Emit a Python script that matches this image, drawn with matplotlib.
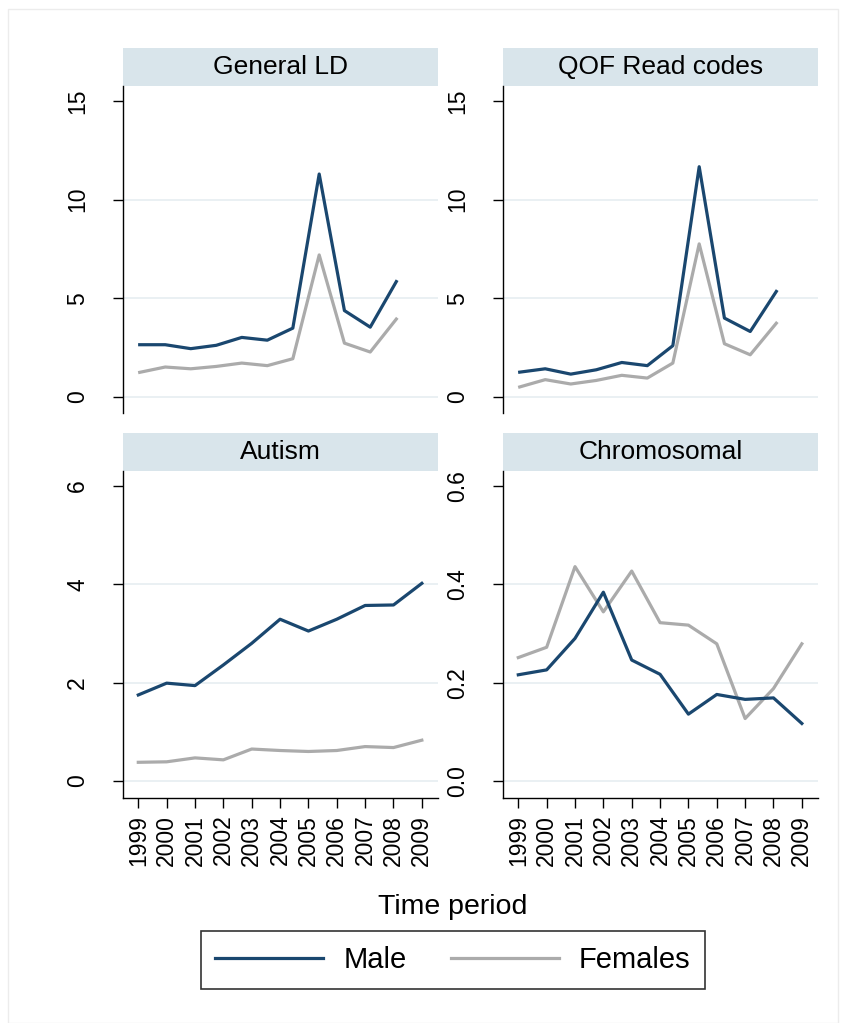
import matplotlib.pyplot as plt
from matplotlib.patches import Rectangle

plt.rcParams["font.family"] = ["Liberation Sans", "DejaVu Sans"]

# ---------------- DATA ----------------
years = [1999, 2000, 2001, 2002, 2003, 2004, 2005, 2006, 2007, 2008, 2009]
year_labels = [str(y) for y in years]

# top panels: the 11 points sit at non-integer spots on the shared time axis
top_x = [1999.05, 1999.95, 2000.85, 2001.75, 2002.65, 2003.55,
         2004.45, 2005.38, 2006.27, 2007.18, 2008.1]

general_male = [2.65, 2.65, 2.45, 2.62, 3.02, 2.88, 3.49, 11.3, 4.38, 3.54, 5.85]
general_female = [1.25, 1.52, 1.43, 1.55, 1.72, 1.59, 1.94, 7.2, 2.73, 2.28, 3.95]

qof_male = [1.26, 1.43, 1.16, 1.38, 1.75, 1.59, 2.6, 11.67, 4.0, 3.32, 5.35]
qof_female = [0.51, 0.88, 0.66, 0.84, 1.1, 0.96, 1.72, 7.76, 2.7, 2.14, 3.74]

autism_male = [1.75, 1.99, 1.94, 2.36, 2.8, 3.29, 3.05, 3.29, 3.57, 3.58, 4.02]
autism_female = [0.38, 0.39, 0.47, 0.43, 0.65, 0.62, 0.6, 0.62, 0.7, 0.68, 0.83]

chrom_male = [0.216, 0.226, 0.29, 0.384, 0.246, 0.217, 0.136, 0.176, 0.166, 0.169, 0.117]
chrom_female = [0.251, 0.272, 0.436, 0.344, 0.427, 0.322, 0.317, 0.279, 0.127, 0.188, 0.279]

top_ticks = [0, 5, 10, 15]
autism_ticks = [0, 2, 4, 6]
chrom_ticks = [0.0, 0.2, 0.4, 0.6]

MALE_COL = "#1a476f"
FEMALE_COL = "#ababab"
STRIP_COL = "#d9e5eb"
GRID_COL = "#e6eef1"

# ---------------- PLOT ----------------
W, H = 846, 1023
fig = plt.figure(figsize=(W / 100, H / 100), dpi=100)


def px_axes(x0, x1, y0, y1):
    # pixel box (top-left origin) -> figure axes
    return fig.add_axes([x0 / W, 1 - y1 / H, (x1 - x0) / W, (y1 - y0) / H])


panels = [
    ("General LD", top_x, general_male, general_female, top_ticks, None,
     (-0.81, 15.76), (122.7, 438, 86, 413), False),
    ("QOF Read codes", top_x, qof_male, qof_female, top_ticks, None,
     (-0.81, 15.76), (502.7, 818, 86, 413), False),
    ("Autism", years, autism_male, autism_female, autism_ticks, None,
     (-0.346, 6.305), (122.7, 438, 471, 798), True),
    ("Chromosomal", years, chrom_male, chrom_female, chrom_ticks,
     ["0.0", "0.2", "0.4", "0.6"],
     (-0.0346, 0.6305), (502.7, 818, 471, 798), True),
]

for title, xs, male, female, yticks, ylabels, ylim, box, show_x in panels:
    ax = px_axes(*box)
    for t in yticks[:-1]:
        ax.axhline(t, color=GRID_COL, lw=1.2, zorder=0)
    ax.plot(xs, male, color=MALE_COL, lw=2.3, zorder=3)
    ax.plot(xs, female, color=FEMALE_COL, lw=2.3, zorder=2)

    ax.set_xlim(1998.45, 2009.57)
    ax.set_ylim(*ylim)
    ax.set_yticks(yticks)
    if ylabels:
        ax.set_yticklabels(ylabels)
    ax.tick_params(axis="y", labelsize=16.5, length=7, width=1, pad=17,
                   labelrotation=90)
    for lab in ax.get_yticklabels():
        lab.set_va("center")

    ax.spines["top"].set_visible(False)
    ax.spines["right"].set_visible(False)
    ax.spines["left"].set_linewidth(1.0)
    if show_x:
        ax.set_xticks(years)
        ax.set_xticklabels(year_labels, rotation=90)
        ax.tick_params(axis="x", labelsize=16.5, length=7, width=1, pad=5)
        ax.spines["bottom"].set_linewidth(1.0)
    else:
        ax.set_xticks([])
        ax.spines["bottom"].set_visible(False)

    # strip title above each panel
    strip_h = 38 / (box[3] - box[2])
    ax.add_patch(Rectangle((0, 1), 1, strip_h, transform=ax.transAxes,
                           facecolor=STRIP_COL, edgecolor="none", clip_on=False))
    ax.text(0.5, 1 + strip_h / 2, title, transform=ax.transAxes,
            ha="center", va="center", fontsize=19)

fig.text(453 / W, 1 - 907 / H, "Time period", ha="center", va="center",
         fontsize=20.5)

handles = [plt.Line2D([], [], color=MALE_COL, lw=2.3),
           plt.Line2D([], [], color=FEMALE_COL, lw=2.3)]
leg = fig.legend(handles, ["Male", "Females"], loc="center",
                 bbox_to_anchor=(453 / W, 1 - 960 / H), ncol=2, fontsize=21,
                 frameon=True, fancybox=False, handlelength=3.7,
                 handletextpad=0.7, columnspacing=1.5, borderpad=0.5,
                 borderaxespad=0)
leg.get_frame().set_edgecolor("black")
leg.get_frame().set_linewidth(1.2)

# faint outer frame of the graph region
fig.patches.append(Rectangle((8 / W, 0), 830 / W, 1 - 9 / H,
                             transform=fig.transFigure, facecolor="none",
                             edgecolor="#ececec", lw=1))

fig.savefig("out.png", dpi=100)
plt.close(fig)
